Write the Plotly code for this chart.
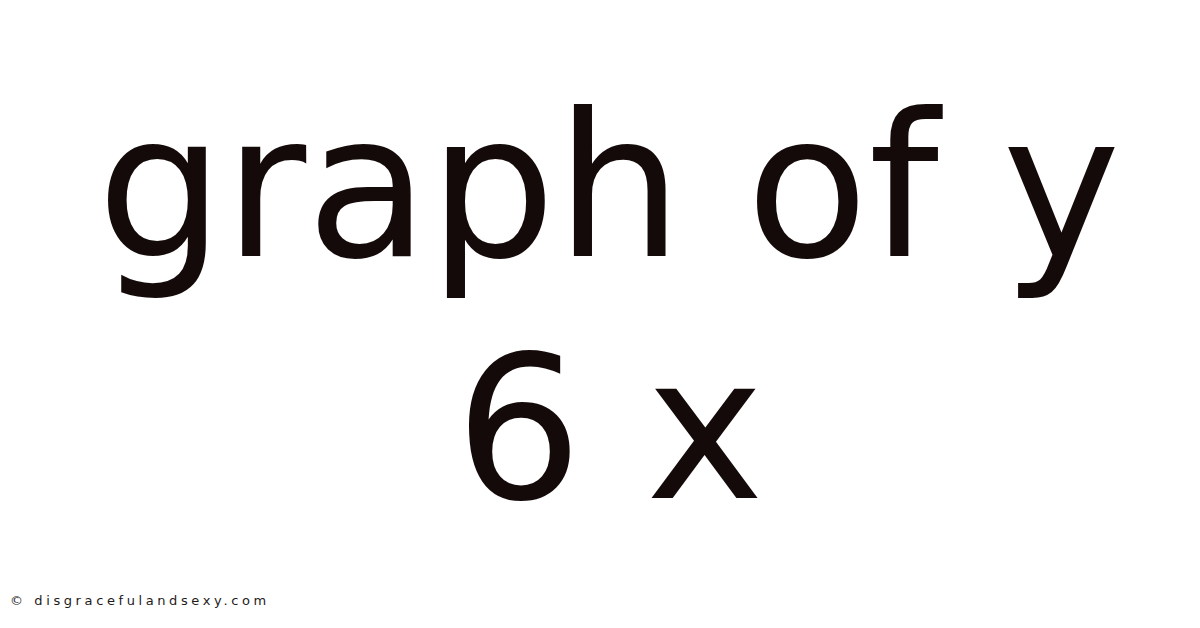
import plotly.graph_objects as go

# text lines of the title card
title_lines = ["graph of y", "6 x"]
line_y = [0.715, 0.331]
credit = "© disgracefulandsexy.com"

ink = "#140a0a"

fig = go.Figure()

for txt, yy in zip(title_lines, line_y):
    fig.add_annotation(text=txt, x=0.501, y=yy, xref="paper", yref="paper",
                       xanchor="center", yanchor="middle", showarrow=False,
                       font=dict(family="DejaVu Sans", size=200, color=ink))

# footer credit, widely tracked
fig.add_annotation(text='<span style="letter-spacing:3.6px">' + credit + '</span>',
                   x=0.0, y=0.056, xref="paper", yref="paper",
                   xanchor="left", yanchor="middle", showarrow=False,
                   font=dict(family="DejaVu Sans", size=13, color="#1e1a1a"))

fig.update_layout(width=1200, height=628, margin=dict(l=0, r=0, t=0, b=0),
                  plot_bgcolor="white", paper_bgcolor="white",
                  xaxis=dict(visible=False), yaxis=dict(visible=False),
                  showlegend=False)

fig.write_html("out.html")
